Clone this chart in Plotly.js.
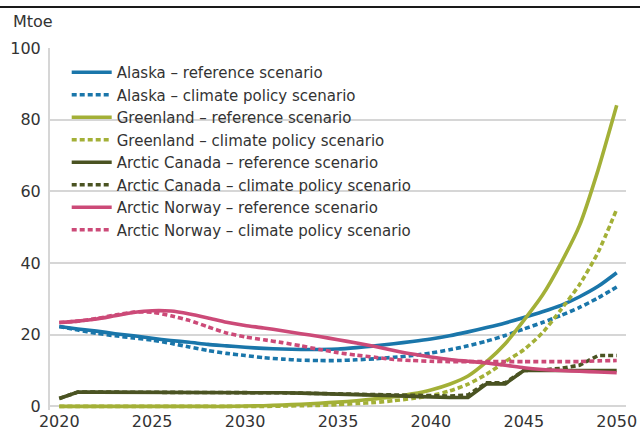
<!DOCTYPE html>
<html>
<head>
<meta charset="utf-8">
<script src="https://cdn.plot.ly/plotly-3.0.1.min.js"></script>
<style>
html,body{margin:0;padding:0;background:#fff;}
#chart{width:640px;height:439px;}
</style>
</head>
<body>
<div id="chart"></div>
<script>
const years = [2020,2021,2022,2023,2024,2025,2026,2027,2028,2029,2030,2031,2032,2033,2034,2035,2036,2037,2038,2039,2040,2041,2042,2043,2044,2045,2046,2047,2048,2049,2050];
const xTicks = [2020,2025,2030,2035,2040,2045,2050];
const yTicks = [0,20,40,60,80,100];

const alaskaRef  = [22.3,21.6,21.0,20.3,19.7,19.0,18.4,17.9,17.3,16.9,16.5,16.2,16.0,15.9,15.9,16.0,16.4,16.9,17.5,18.1,18.8,19.7,20.8,22.0,23.3,24.8,26.4,28.2,30.6,33.5,37.3];
const alaskaClim = [22.3,21.3,20.4,19.7,19.1,18.5,17.6,16.6,15.6,14.8,14.2,13.6,13.2,12.9,12.8,12.8,13.0,13.3,13.7,14.2,14.9,15.8,16.9,18.2,19.8,21.6,23.4,25.4,27.6,30.3,33.3];
const greenRef   = [0,0,0,0,0,0,0,0,0,0,0.1,0.2,0.4,0.6,0.9,1.2,1.6,2.1,2.7,3.5,4.6,6.2,8.5,12.5,17.5,24,31,40,50.5,66,84];
const greenClim  = [0,0,0,0,0,0,0,0,0,0,0,0,0.1,0.2,0.3,0.5,0.8,1.1,1.6,2.2,3.0,4.3,6.2,9.0,12.5,15.8,20.5,27,34,43,55];
const canadaRef  = [2.2,4.0,4.0,4.0,4.0,4.0,4.0,4.0,4.0,4.0,4.0,3.9,3.8,3.7,3.6,3.5,3.4,3.3,3.0,2.8,2.6,2.5,2.5,6.3,6.3,10.0,10.0,10.0,10.0,10.0,10.0];
const canadaClim = [2.2,4.0,4.0,4.0,4.0,4.0,4.0,4.0,4.0,4.0,4.0,3.9,3.8,3.7,3.6,3.5,3.4,3.3,3.1,3.0,2.9,2.9,3.2,6.6,6.6,10.0,10.2,10.6,11.5,14.2,14.2];
const norwayRef  = [23.4,23.8,24.4,25.3,26.2,26.7,26.6,25.8,24.7,23.5,22.6,21.9,21.1,20.3,19.5,18.6,17.7,16.7,15.6,14.6,13.8,13.1,12.6,12.1,11.5,10.8,10.3,10.0,9.8,9.6,9.4];
const norwayClim = [23.4,23.8,24.5,25.5,26.3,26.3,25.3,24.0,22.2,20.5,19.4,18.6,17.8,16.9,15.9,15.0,14.3,13.7,13.1,12.8,12.6,12.5,12.5,12.5,12.5,12.5,12.5,12.5,12.5,12.7,12.8];

const names = [
  "Alaska – reference scenario","Alaska – climate policy scenario",
  "Greenland – reference scenario","Greenland – climate policy scenario",
  "Arctic Canada – reference scenario","Arctic Canada – climate policy scenario",
  "Arctic Norway – reference scenario","Arctic Norway – climate policy scenario"
];
const series = [alaskaRef, alaskaClim, greenRef, greenClim, canadaRef, canadaClim, norwayRef, norwayClim];
const colors = ["#1a76aa","#1a76aa","#a3b037","#a3b037","#4a5322","#4a5322","#cc4a78","#cc4a78"];
const dashed = [false,true,false,true,false,true,false,true];
const smooth = [true,true,true,true,false,false,true,true];

const traces = series.map((ys,i)=>({
  type:"scatter", mode:"lines", x:years, y:ys, name:names[i],
  line:{color:colors[i], width:3.6, dash: dashed[i] ? "5px,3px" : "solid",
        shape: smooth[i] ? "spline" : "linear", smoothing:0.6},
  hoverinfo:"skip"
}));

const font = "'DejaVu Sans', 'Open Sans', sans-serif";
const layout = {
  width:640, height:439,
  margin:{l:50, r:14, t:48, b:29.4},
  paper_bgcolor:"#fff", plot_bgcolor:"#fff",
  font:{family:font, size:16, color:"#333"},
  showlegend:true,
  legend:{x:0.029, y:0.978, xanchor:"left", yanchor:"top", bgcolor:"rgba(0,0,0,0)",
          itemwidth:40,
          font:{family:font, size:15, color:"#333"}, tracegroupgap:0},
  xaxis:{range:[2019.5,2050.5], tickvals:xTicks, ticktext:xTicks.map(String),
         showgrid:false, zeroline:false, showline:false, ticks:"",
         tickfont:{size:16, color:"#333"}, fixedrange:true},
  yaxis:{range:[-1,100], tickvals:yTicks, ticktext:yTicks.map(String),
         showgrid:true, gridcolor:"#d6d6d6", gridwidth:2,
         zeroline:true, zerolinecolor:"#d6d6d6", zerolinewidth:2,
         showline:true, linecolor:"#d6d6d6", linewidth:2, ticks:"",
         ticklabelstandoff:4,
         tickfont:{size:16, color:"#333"}, fixedrange:true},
  annotations:[{text:"Mtoe", xref:"paper", yref:"paper", x:-0.068, y:1.072,
                xanchor:"left", yanchor:"middle", showarrow:false,
                font:{size:16, color:"#333"}}],
  shapes:[{type:"line", xref:"paper", yref:"paper", x0:-0.09, x1:1.03, y0:1.1134, y1:1.1134,
           line:{color:"#1a1a1a", width:2}}]
};
Plotly.newPlot("chart", traces, layout, {displayModeBar:false, staticPlot:true});
</script>
</body>
</html>
